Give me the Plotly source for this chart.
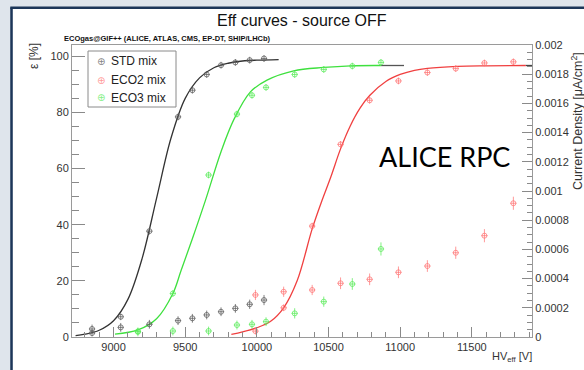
import plotly.graph_objects as go

# ---------------- data ----------------
std_hv = [8850, 9050, 9250, 9450, 9550, 9650, 9750, 9850, 9950, 10050]
std_eff = [1.4, 7.2, 37.7, 78.4, 87.9, 93.5, 96.8, 97.8, 98.6, 99.2]
std_cur = [0.000055, 0.000066, 0.000087, 0.000112, 0.000128, 0.000151, 0.000173, 0.000196, 0.000224, 0.000253]

eco2_hv = [9990, 10187, 10386, 10584, 10787, 10988, 11190, 11388, 11588, 11790]
eco2_eff = [2.1, 10.4, 39.5, 68.6, 84.3, 91.2, 94.2, 95.6, 97.6, 98.0]
eco2_cur = [0.000288, 0.000310, 0.000322, 0.000368, 0.000395, 0.000443, 0.000486, 0.000577, 0.000694, 0.000916]

eco3_hv = [9170, 9414, 9663, 9861, 9966, 10064, 10264, 10467, 10666, 10866]
eco3_eff = [2.0, 15.5, 57.7, 79.4, 86.1, 88.9, 93.5, 95.3, 96.5, 97.8]
eco3_cur = [0.000035, 0.000041, 0.000041, 0.000082, 0.000087, 0.000105, 0.000162, 0.000242, 0.000363, 0.000603]

eff_err = [1.2] * 10
std_cur_err = [0.00003, 0.00003, 0.00003, 0.00003, 0.00003, 0.00003, 0.00003, 0.00003, 0.000032, 0.000035]
eco2_cur_err = [0.000035, 0.000035, 0.000035, 0.00004, 0.00004, 0.00004, 0.00004, 0.000042, 0.000045, 0.000045]
eco3_cur_err = [0.00003, 0.00003, 0.00003, 0.00003, 0.00003, 0.00003, 0.000035, 0.000035, 0.00004, 0.000045]

# fit curves
std_fit_hv = [8735, 8800, 8900, 9000, 9100, 9200, 9300, 9400, 9500, 9600, 9700, 9800, 9900, 10000, 10152]
std_fit_eff = [0.5, 1.0, 2.4, 5.8, 13.4, 28.1, 49.4, 70.7, 85.0, 92.3, 95.9, 97.5, 98.3, 98.6, 98.8]

eco3_fit_hv = [9010, 9170, 9300, 9414, 9470, 9550, 9640, 9750, 9840, 9955, 10071, 10257, 10467, 10654, 10866]
eco3_fit_eff = [1.0, 2.5, 6.5, 15.5, 23.5, 35.0, 48.5, 66.0, 77.5, 87.3, 91.5, 94.8, 96.0, 96.6, 96.7]
eco3_tail_hv = [10866, 11027]
eco3_tail_eff = [96.7, 96.7]

eco2_fit_hv = [9822, 9900, 10000, 10094, 10187, 10281, 10386, 10450, 10516, 10584, 10650, 10720, 10787,
               10900, 11000, 11100, 11190, 11400, 11600, 11877]
eco2_fit_eff = [0.9, 1.8, 3.3, 5.5, 10.4, 20.0, 38.5, 48.0, 57.0, 67.0, 75.0, 81.5, 86.0,
                91.0, 93.5, 95.0, 95.7, 96.4, 96.6, 96.7]
eco2_tail_hv = [11877, 11924]
eco2_tail_eff = [96.7, 96.7]

x_ticks = [9000, 9500, 10000, 10500, 11000, 11500]
x_labels = ["9000", "9500", "10000", "10500", "11000", "11500"]
y_ticks = [0, 20, 40, 60, 80, 100]
y2_ticks = [0, 0.0002, 0.0004, 0.0006, 0.0008, 0.001, 0.0012, 0.0014, 0.0016, 0.0018, 0.002]
y2_labels = ["0", "0.0002", "0.0004", "0.0006", "0.0008", "0.001", "0.0012", "0.0014", "0.0016", "0.0018", "0.002"]
legend_names = ["STD mix", "ECO2 mix", "ECO3 mix"]

# ---------------- styling ----------------
FONT = "Liberation Sans Narrow, Liberation Sans, Arial, sans-serif"
C_STD = "rgba(90,90,90,0.75)"
C_ECO2 = "rgba(255,110,110,0.7)"
C_ECO3 = "rgba(90,235,90,0.75)"
L_STD = "#333333"
L_ECO2 = "#f04040"
L_ECO3 = "#3ee03e"

W, H = 584, 370
L, R, T, B = 72, 52, 45, 33
PW, PH = W - L - R, H - T - B


def px(xp):
    return (xp - L) / PW


def py(yp):
    return (H - B - yp) / PH


fig = go.Figure()


def points(x, y, err, color, name, yaxis):
    return go.Scatter(
        x=x, y=y, mode="markers", name=name, yaxis=yaxis, showlegend=False,
        marker=dict(symbol="circle-open", size=5, color=color, line=dict(width=1, color=color)),
        error_y=dict(type="data", array=err, color=color, thickness=1, width=0),
        error_x=dict(type="constant", value=22, color=color, thickness=1, width=0),
    )


def line(x, y, color, yaxis="y"):
    return go.Scatter(x=x, y=y, mode="lines", showlegend=False, yaxis=yaxis,
                      line=dict(color=color, width=1.3, shape="spline"), hoverinfo="skip")


fig.add_trace(line(std_fit_hv, std_fit_eff, L_STD))
fig.add_trace(line(eco3_fit_hv, eco3_fit_eff, L_ECO3))
fig.add_trace(line(eco3_tail_hv, eco3_tail_eff, "#555555"))
fig.add_trace(line(eco2_fit_hv, eco2_fit_eff, L_ECO2))
fig.add_trace(line(eco2_tail_hv, eco2_tail_eff, "#444444"))

fig.add_trace(points(std_hv, std_eff, eff_err, C_STD, "STD mix", "y"))
fig.add_trace(points(eco2_hv, eco2_eff, eff_err, C_ECO2, "ECO2 mix", "y"))
fig.add_trace(points(eco3_hv, eco3_eff, eff_err, C_ECO3, "ECO3 mix", "y"))
fig.add_trace(points(std_hv, std_cur, std_cur_err, C_STD, "STD mix", "y2"))
fig.add_trace(points(eco2_hv, eco2_cur, eco2_cur_err, C_ECO2, "ECO2 mix", "y2"))
fig.add_trace(points(eco3_hv, eco3_cur, eco3_cur_err, C_ECO3, "ECO3 mix", "y2"))

axis_common = dict(showgrid=False, zeroline=False, showline=True, linecolor="#9a9a9a", linewidth=1,
                   ticks="inside", tickcolor="#8a8a8a", tickfont=dict(family=FONT, size=11, color="#333"))


def note(text, xp, yp, size, color="#333", family=FONT, xanchor="center", angle=0):
    return dict(text=text, xref="paper", yref="paper", x=px(xp), y=py(yp), xanchor=xanchor,
                yanchor="middle", textangle=angle, showarrow=False,
                font=dict(family=family, size=size, color=color))


annotations = [
    note("Eff curves - source OFF", 302, 21, 16, "#111"),
    note("<b>ECOgas@GIF++ (ALICE, ATLAS, CMS, EP-DT, SHIP/LHCb)</b>", 62, 39, 7.5, "#111", xanchor="left"),
    note("ε [%]", 34, 56, 12, angle=-90),
    note("Current Density [μA/cm<sup>2</sup>]", 577, 121, 12.5, angle=-90),
    note("HV<sub>eff</sub> [V]", 534, 357, 11, xanchor="right"),
    note("ALICE RPC", 444, 156, 27, "#000", family="Lato, Open Sans, sans-serif"),
]

# hand-made legend box (matches the ROOT legend layout)
legend_colors = [C_STD, C_ECO2, C_ECO3]
legend_rows = [61, 80, 98]
for name, col, yrow in zip(legend_names, legend_colors, legend_rows):
    annotations.append(note("⊕", 101, yrow, 10, col, family="DejaVu Sans"))
    annotations.append(note(name, 109, yrow, 12, "#222", xanchor="left"))

fig.update_layout(
    width=W, height=H, autosize=False,
    margin=dict(l=L, r=R, t=T, b=B, pad=0),
    paper_bgcolor="#dfe5ec", plot_bgcolor="white",
    font=dict(family=FONT, color="#222"),
    showlegend=False,
    xaxis=dict(range=[8710, 11920], tickvals=x_ticks, ticktext=x_labels, ticklen=10, mirror=True,
               minor=dict(dtick=100, ticklen=5, ticks="inside", tickcolor="#8a8a8a"), **axis_common),
    yaxis=dict(range=[0, 104], tickvals=y_ticks, ticklen=13,
               minor=dict(dtick=5, ticklen=7, ticks="inside", tickcolor="#8a8a8a"), **axis_common),
    yaxis2=dict(range=[0, 0.002], overlaying="y", side="right", tickvals=y2_ticks, ticktext=y2_labels,
                ticklen=10, minor=dict(dtick=0.00005, ticklen=5, ticks="inside", tickcolor="#8a8a8a"),
                **axis_common),
    shapes=[
        dict(type="rect", xref="paper", yref="paper", x0=px(13), x1=1.3, y0=-0.3, y1=py(9),
             fillcolor="white", line=dict(width=0), layer="below"),
        dict(type="line", xref="paper", yref="paper", x0=px(11.5), x1=px(11.5), y0=-0.3, y1=py(7.5),
             line=dict(color="#1c3659", width=2.5), layer="above"),
        dict(type="line", xref="paper", yref="paper", x0=px(10.3), x1=1.3, y0=py(7.8), y1=py(7.8),
             line=dict(color="#1c3659", width=2.5), layer="above"),
        dict(type="rect", xref="paper", yref="paper", x0=px(88), x1=px(176), y0=py(107), y1=py(51),
             fillcolor="white", line=dict(color="#8a8a8a", width=1), layer="above"),
    ],
    annotations=annotations,
)

fig.write_html("out.html", config={"displayModeBar": False},
               post_script="document.body.style.margin='0';document.body.style.overflow='hidden';")
